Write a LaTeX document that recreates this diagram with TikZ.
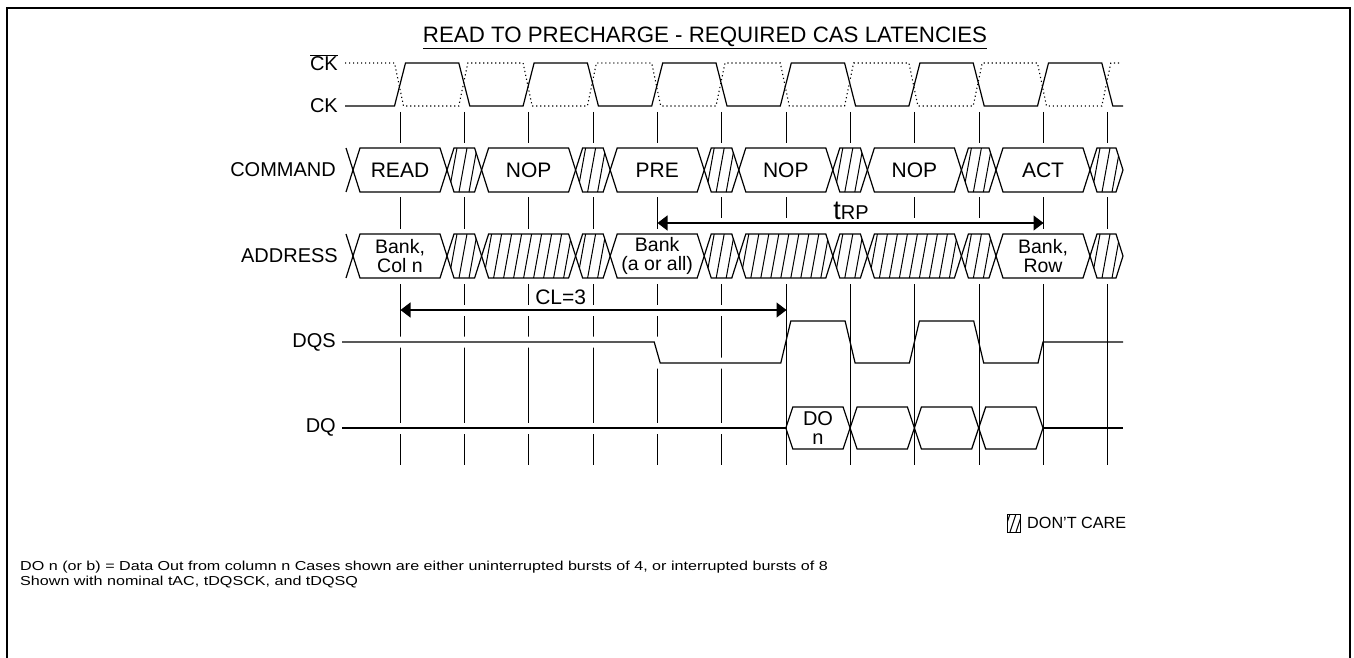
\documentclass[tikz,border=0pt]{standalone}
\usepackage{fontspec}
\setmainfont{Liberation Sans}
\usetikzlibrary{arrows.meta}
\tikzset{
  sig/.style={line width=1.2pt, line join=miter},
  dotsig/.style={line width=1.1pt, dash pattern=on 1.2pt off 2.8pt},
  tickln/.style={line width=1.1pt},
  halo/.style={white, line width=11pt},
  hatchln/.style={line width=1.0pt},
  dimarrow/.style={line width=1.2pt, arrows={Triangle[length=10pt,width=15pt]-Triangle[length=10pt,width=15pt]}},
  sidelbl/.style={font=\fontsize{20}{20}\selectfont, inner sep=0pt, anchor=east},
  boxlbl/.style={font=\fontsize{21}{21}\selectfont, inner sep=0pt},
  twolbl/.style={font=\fontsize{19.5}{18.5}\selectfont, inner sep=0pt, align=center},
}
% #1 x1, #2 x2, #3 top, #4 bottom, #5 hatched (1) or not (0)
\newcommand\hcell[5]{%
  \pgfmathsetmacro\hcm{(#3+#4)/2}%
  \ifnum#5=1
  \begin{scope}
    \clip (#1,\hcm) -- ({#1+7},#3) -- ({#2-7},#3) -- (#2,\hcm) -- ({#2-7},#4) -- ({#1+7},#4) -- cycle;
    \pgfmathsetmacro\hsa{#1-8}\pgfmathsetmacro\hsb{#1+2}\pgfmathsetmacro\hse{#2+4}%
    \foreach \h in {\hsa,\hsb,...,\hse} {\draw[hatchln] (\h,#4) -- ({\h+8},#3);}
  \end{scope}
  \fi
  \draw[sig] (#1,\hcm) -- ({#1+7},#3) -- ({#2-7},#3) -- (#2,\hcm) -- ({#2-7},#4) -- ({#1+7},#4) -- cycle;
}
\def\Tklist{400.5,464.5,528.5,593.5,657.5,721.5,786.5,850.5,914.5,979.5,1043.5,1107.5}

\begin{document}
\begin{tikzpicture}[x=1pt,y=-1pt]
\useasboundingbox (0,0) rectangle (1354,658);
\fill[white] (0,0) rectangle (1354,658);
% frame
\draw[line width=2pt] (6.5,658) -- (6.5,8) -- (1349.5,8) -- (1349.5,658);

% title
\node[font=\fontsize{22.3}{22.3}\selectfont, inner sep=0pt, anchor=base] (title) at (705,43) {\underline{READ TO PRECHARGE - REQUIRED CAS LATENCIES}};

% side labels
\node[sidelbl] (lckb) at (338,63) {$\overline{\mbox{CK}}$};
\node[sidelbl] (lck) at (338,106) {CK};
\node[sidelbl] (lcmd) at (336,170) {COMMAND};
\node[sidelbl] (laddr) at (338,256) {ADDRESS};
\node[sidelbl] (ldqs) at (336,342) {DQS};
\node[sidelbl] (ldq) at (336,427) {DQ};

% ticks
\foreach \x [count=\i from 0] in \Tklist {
  \draw[tickln] (\x,112) -- (\x,143);
  \ifnum\i=7\else
    \ifnum\i>4 \ifnum\i<10
      \draw[tickln] (\x,197) -- (\x,218);
    \else
      \draw[tickln] (\x,197) -- (\x,229);
    \fi
    \else
      \draw[tickln] (\x,197) -- (\x,229);
    \fi
  \fi
  \draw[tickln] (\x,284) -- (\x,465);
}

% clocks
\draw[sig] (345,106) -- (394.5,106) -- (405.5,63) -- (458.8,63) -- (469.8,106) -- (523.1,106) -- (534.1,63) -- (587.4,63) -- (598.4,106) -- (651.7,106) -- (662.7,63) -- (716.0,63) -- (727.0,106) -- (780.3,106) -- (791.3,63) -- (844.6,63) -- (855.6,106) -- (908.9,106) -- (919.9,63) -- (973.2,63) -- (984.2,106) -- (1037.5,106) -- (1048.5,63) -- (1101.8,63) -- (1112.8,106) -- (1123,106);
\draw[dotsig] (345,63) -- (394.5,63) -- (403.5,106) -- (458.8,106) -- (467.8,63) -- (523.1,63) -- (532.1,106) -- (587.4,106) -- (596.4,63) -- (651.7,63) -- (660.7,106) -- (716.0,106) -- (725.0,63) -- (780.3,63) -- (789.3,106) -- (844.6,106) -- (853.6,63) -- (908.9,63) -- (917.9,106) -- (973.2,106) -- (982.2,63) -- (1037.5,63) -- (1046.5,106) -- (1101.8,106) -- (1110.8,63) -- (1120,63);

% command bus
\draw[sig] (346,148) -- (353,170) -- (346,192);
\hcell{353}{447}{148}{192}{0}
\hcell{447}{481.6}{148}{192}{1}
\hcell{481.6}{575.6}{148}{192}{0}
\hcell{575.6}{610.2}{148}{192}{1}
\hcell{610.2}{704.2}{148}{192}{0}
\hcell{704.2}{738.8}{148}{192}{1}
\hcell{738.8}{832.8}{148}{192}{0}
\hcell{832.8}{867.4}{148}{192}{1}
\hcell{867.4}{961.4}{148}{192}{0}
\hcell{961.4}{996}{148}{192}{1}
\hcell{996}{1090}{148}{192}{0}
\hcell{1090}{1123}{148}{192}{1}
\node[boxlbl] (cread) at (400.0,170) {READ};
\node[boxlbl] (cnop1) at (528.6,170) {NOP};
\node[boxlbl] (cpre) at (657.2,170) {PRE};
\node[boxlbl] (cnop2) at (785.8,170) {NOP};
\node[boxlbl] (cnop3) at (914.4,170) {NOP};
\node[boxlbl] (cact) at (1043.0,170) {ACT};

% address bus
\draw[sig] (346,234) -- (353,256) -- (346,278);
\hcell{353}{447}{234}{278}{0}
\hcell{447}{481.6}{234}{278}{1}
\hcell{481.6}{575.6}{234}{278}{1}
\hcell{575.6}{610.2}{234}{278}{1}
\hcell{610.2}{704.2}{234}{278}{0}
\hcell{704.2}{738.8}{234}{278}{1}
\hcell{738.8}{832.8}{234}{278}{1}
\hcell{832.8}{867.4}{234}{278}{1}
\hcell{867.4}{961.4}{234}{278}{1}
\hcell{961.4}{996}{234}{278}{1}
\hcell{996}{1090}{234}{278}{0}
\hcell{1090}{1123}{234}{278}{1}
\node[twolbl] (acol) at (400.0,256) {Bank,\\Col n};
\node[twolbl] (abank) at (657.2,256) {Bank\\(a or all)};
\node[twolbl] (arow) at (1043.0,256) {Bank,\\Row};

% tRP
\coordinate (trpL) at (657.5,223);
\coordinate (trpR) at (1043.5,223);
\draw[dimarrow] (trpL) -- (trpR);
\node[inner sep=0pt, anchor=base] (trp) at (851,219) {\fontsize{27}{27}\selectfont t\fontsize{20}{20}\selectfont RP};

% CL=3
\coordinate (clL) at (400.5,310);
\coordinate (clR) at (786.5,310);
\draw[halo] (410,310) -- (776,310);
\draw[dimarrow] (clL) -- (clR);
\node[inner sep=0pt, font=\fontsize{21}{21}\selectfont] (cl) at (560.7,297) {CL=3};

% DQS
\draw[halo] (342,342) -- (654.2,342) -- (660.2,363) -- (779,363);
\draw[sig] (342,342) -- (654.2,342) -- (660.2,363) -- (780.8,363) -- (790.8,321) -- (845.1,321) -- (855.1,363) -- (909.4,363) -- (919.4,321) -- (973.7,321) -- (983.7,363) -- (1038,363) -- (1043,342) -- (1123,342);

% DQ
\draw[halo] (342,428) -- (779,428);
\draw[sig] (342,428) -- (785.8,428);
\hcell{785.8}{850.1}{407}{449}{0}
\hcell{850.1}{914.4}{407}{449}{0}
\hcell{914.4}{978.7}{407}{449}{0}
\hcell{978.7}{1043.0}{407}{449}{0}
\draw[sig] (1043,428) -- (1123,428);
\node[font=\fontsize{20}{19}\selectfont, inner sep=0pt, align=center] (don) at (818,428) {DO\\n};

% legend
\begin{scope}
  \clip (1007,514) rectangle (1020,532);
  \foreach \h in {998,1004,1010,1016} {\draw[hatchln] (\h,532) -- ({\h+6},514);}
\end{scope}
\draw[line width=1pt] (1007,514) rectangle (1020,532);
\node[font=\fontsize{16.2}{16.2}\selectfont, inner sep=0pt, anchor=west] (dc) at (1027,523) {DON'T CARE};

% footnote
\node[font=\fontsize{13}{15}\selectfont, inner sep=0pt, anchor=base west] (fn1) at (20,570) {\scalebox{1.24}[1]{DO n (or b) = Data Out from column n Cases shown are either uninterrupted bursts of 4, or interrupted bursts of 8}};
\node[font=\fontsize{13}{15}\selectfont, inner sep=0pt, anchor=base west] (fn2) at (20,585) {\scalebox{1.24}[1]{Shown with nominal tAC, tDQSCK, and tDQSQ}};
\end{tikzpicture}
\end{document}
